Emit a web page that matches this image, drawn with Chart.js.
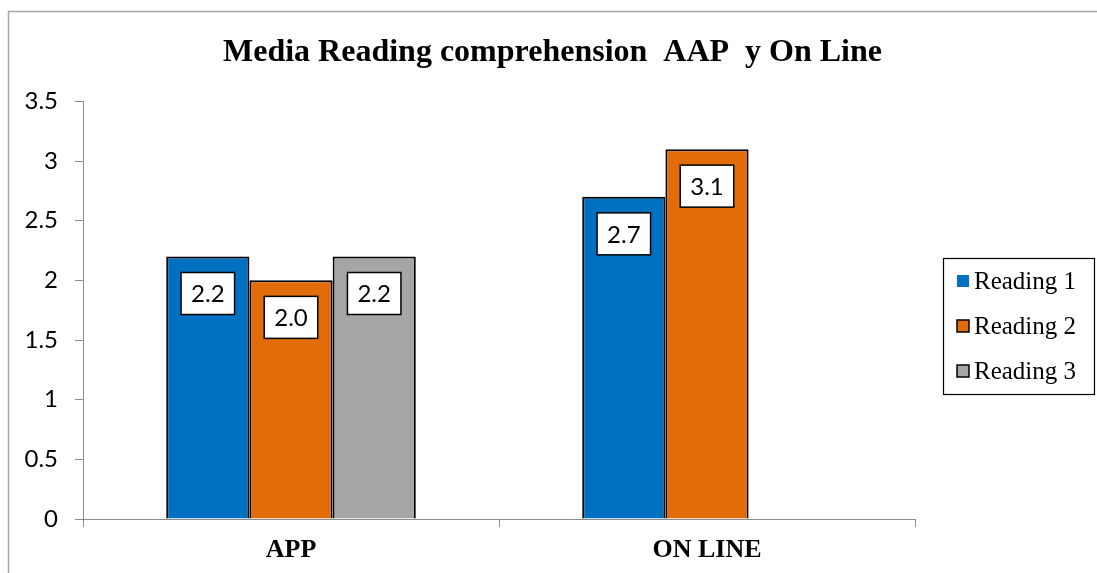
<!DOCTYPE html>
<html lang="en">
<head>
    <meta charset="UTF-8">
    <title>Media Reading comprehension</title>
    <script src="https://cdn.jsdelivr.net/npm/chart.js"></script>
    <style>
        html, body { margin: 0; padding: 0; background: #fff; overflow: hidden; }
        .container { width: 1097px; height: 573px; position: relative; }
    </style>
</head>
<body>
    <div class="container">
        <canvas id="readingChart" width="1097" height="573"></canvas>
    </div>

    <script>
        const categories = ['APP', 'ON LINE'];
        const seriesNames = ['Reading 1', 'Reading 2', 'Reading 3'];
        const reading1 = [2.2, 2.7];
        const reading2 = [2.0, 3.1];
        const reading3 = [2.2, null];
        const seriesColors = ['#0070C0', '#E36C0A', '#A6A6A6'];
        const yTicks = [0, 0.5, 1, 1.5, 2, 2.5, 3, 3.5];

        const axisGray = '#8C8C8C';
        const sansFont = 'Lato, "Open Sans", sans-serif';

        // gray frame round the whole chart
        const frame = {
            id: 'frame',
            beforeDraw(chart) {
                const ctx = chart.ctx;
                ctx.save();
                ctx.strokeStyle = '#A6A6A6';
                ctx.lineWidth = 1.5;
                ctx.strokeRect(8.5, 11.5, 2000, 2000);
                ctx.restore();
            }
        };

        // value boxes inside the top of every bar
        const valueBoxes = {
            id: 'valueBoxes',
            afterDatasetsDraw(chart) {
                const ctx = chart.ctx;
                ctx.save();
                ctx.font = '24px ' + sansFont;
                ctx.textAlign = 'center';
                ctx.textBaseline = 'middle';
                chart.data.datasets.forEach((ds, i) => {
                    const meta = chart.getDatasetMeta(i);
                    meta.data.forEach((bar, j) => {
                        const v = ds.data[j];
                        if (v === null || v === undefined) return;
                        const txt = v.toFixed(1);
                        const w = ctx.measureText(txt).width + 20;
                        const h = 42;
                        const cy = bar.y + 37;
                        ctx.fillStyle = '#fff';
                        ctx.fillRect(bar.x - w / 2, cy - h / 2, w, h);
                        ctx.strokeStyle = '#000';
                        ctx.lineWidth = 1.5;
                        ctx.strokeRect(bar.x - w / 2, cy - h / 2, w, h);
                        ctx.fillStyle = '#000';
                        ctx.fillText(txt, bar.x, cy + 1);
                    });
                });
                ctx.restore();
            }
        };

        // boxed legend to the right of the plot
        const sideLegend = {
            id: 'sideLegend',
            afterDraw(chart) {
                const ctx = chart.ctx;
                const area = chart.chartArea;
                const left = area.right + 28;
                const width = 151;
                const rowH = 45;
                const n = chart.data.datasets.length;
                const top = 258;
                const height = n * rowH + 1;
                ctx.save();
                ctx.strokeStyle = '#000';
                ctx.lineWidth = 1.2;
                ctx.strokeRect(left + 0.5, top + 0.5, width, height);
                ctx.font = '25px "Liberation Serif"';
                ctx.textBaseline = 'middle';
                chart.data.datasets.forEach((ds, i) => {
                    const cy = top + 23 + i * rowH;
                    ctx.fillStyle = ds.backgroundColor;
                    ctx.fillRect(left + 14, cy - 6, 12, 12);
                    if (i > 0) {
                        ctx.strokeStyle = '#000';
                        ctx.lineWidth = 1.5;
                        ctx.strokeRect(left + 14, cy - 6, 12, 12);
                    }
                    ctx.fillStyle = '#000';
                    ctx.fillText(ds.label, left + 31, cy + 1);
                });
                ctx.restore();
            }
        };

        const ctx = document.getElementById('readingChart').getContext('2d');
        const chart = new Chart(ctx, {
            type: 'bar',
            data: {
                labels: categories,
                datasets: [reading1, reading2, reading3].map((values, i) => ({
                    label: seriesNames[i],
                    data: values,
                    backgroundColor: seriesColors[i],
                    borderColor: '#000',
                    borderWidth: 2,
                    categoryPercentage: 0.6,
                    barPercentage: 1.0
                }))
            },
            options: {
                responsive: false,
                animation: false,
                layout: { padding: { left: 8, right: 0, top: 0, bottom: 0 } },
                plugins: {
                    legend: { display: false },
                    tooltip: { enabled: false },
                    title: {
                        display: true,
                        text: 'Media Reading comprehension  AAP  y On Line',
                        color: '#000',
                        font: { family: 'Liberation Serif', size: 32, weight: 'bold' },
                        padding: { top: 34, bottom: 29 }
                    }
                },
                scales: {
                    x: {
                        grid: { drawOnChartArea: false, color: axisGray, tickLength: 8 },
                        border: { color: axisGray, width: 1 },
                        ticks: {
                            color: '#000',
                            padding: 8,
                            font: { family: 'Liberation Serif', size: 26, weight: 'bold' }
                        },
                        afterFit: (scale) => { scale.height = 54; }
                    },
                    y: {
                        min: 0,
                        max: 3.5,
                        afterBuildTicks: (scale) => { scale.ticks = yTicks.map(v => ({ value: v })); },
                        grid: { drawOnChartArea: false, color: axisGray, tickLength: 8 },
                        border: { color: axisGray, width: 1 },
                        ticks: {
                            color: '#000',
                            padding: 17,
                            font: { family: sansFont, size: 24 },
                            callback: (v) => String(v)
                        },
                        afterFit: (scale) => { scale.width = 75; }
                    },
                    // keeps room on the right for the boxed legend
                    spacer: {
                        type: 'linear',
                        position: 'right',
                        display: true,
                        grid: { display: false },
                        border: { display: false },
                        ticks: { display: false },
                        afterFit: (scale) => { scale.width = 182; }
                    }
                }
            },
            plugins: [frame, valueBoxes, sideLegend]
        });
    </script>
</body>
</html>
